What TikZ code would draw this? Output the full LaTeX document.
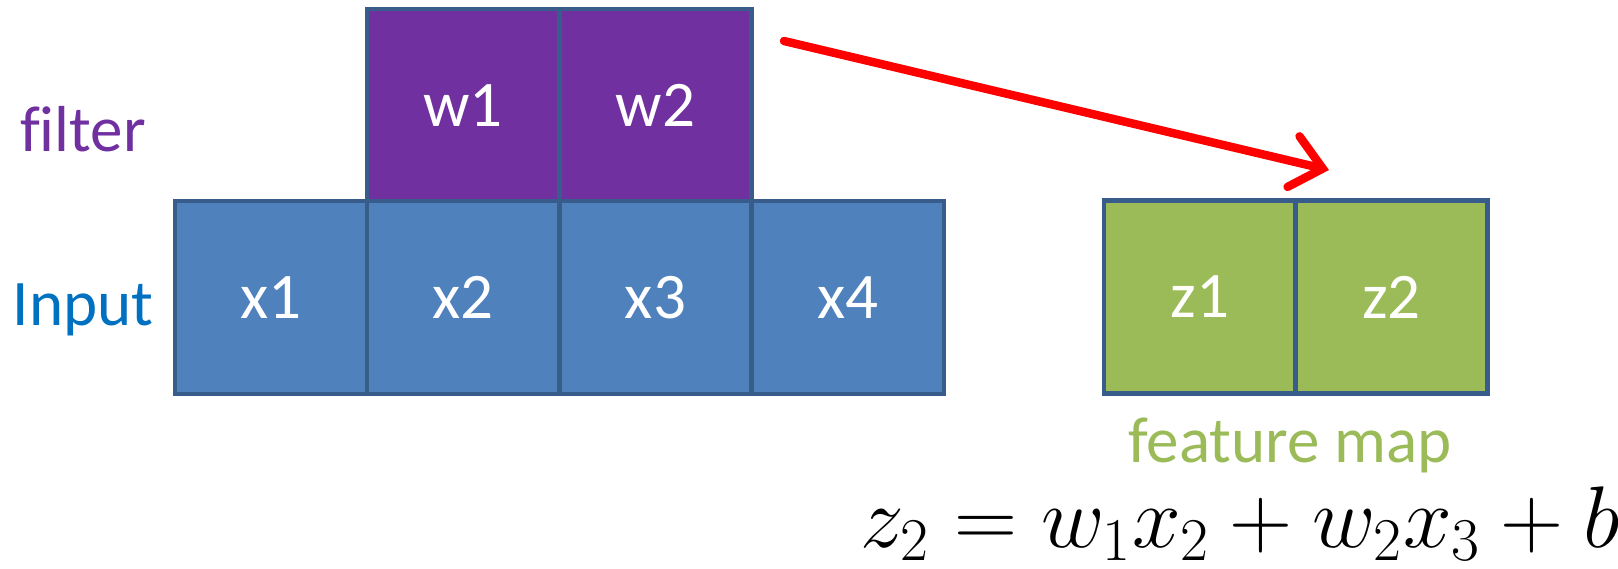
\documentclass[tikz,border=0pt]{standalone}
\usepackage{fontspec}
\setmainfont{Carlito}[Ligatures={NoCommon}]
\usetikzlibrary{arrows.meta}
\definecolor{fpurple}{HTML}{7030A0}
\definecolor{inblue}{HTML}{4F81BD}
\definecolor{edgeblue}{HTML}{385D8A}
\definecolor{fgreen}{HTML}{9BBB59}
\definecolor{txtblue}{HTML}{0070C0}
\tikzset{
  cell/.style={draw=edgeblue, line width=1.4pt, minimum width=1.92cm, minimum height=1.93cm,
    inner sep=0pt, outer sep=0pt, text=white, font=\fontsize{18.5}{22}\selectfont},
  incell/.style={cell, fill=inblue},
  wcell/.style={cell, fill=fpurple},
  zcell/.style={cell, fill=fgreen},
  lbl/.style={font=\fontsize{18.5}{22}\selectfont, inner sep=0pt},
  redarrow/.style={draw=red, line width=2.4pt, line cap=round, -{Straight Barb[length=3mm, width=5.2mm, line cap=round]}}
}
\begin{document}
\begin{tikzpicture}
\useasboundingbox (0,0) rectangle (16.18,-5.68);
% filter
\node[wcell] (w1) at (4.63,-1.055) {w1};
\node[wcell] (w2) at (6.555,-1.055) {w2};
% input
\node[incell] (x1) at (2.71,-2.975) {x1};
\node[incell] (x2) at (4.63,-2.975) {x2};
\node[incell] (x3) at (6.555,-2.975) {x3};
\node[incell] (x4) at (8.48,-2.975) {x4};
% feature map
\node[zcell] (z1) at (12.00,-2.97) {z1};
\node[zcell] (z2) at (13.915,-2.97) {z2};
% labels
\node[lbl, text=fpurple] (flbl) at (0.83,-1.29) {filter};
\node[lbl, text=txtblue] (ilbl) at (0.83,-3.10) {Input};
\node[lbl, text=fgreen] (fmlbl) at (12.9,-4.45) {feature map};
\node[inner sep=0pt] (eq) at (12.40,-5.24) {\fontsize{23}{28}\selectfont $z_2 = w_1x_2 + w_2x_3 + b$};
% arrow
\coordinate (as) at (7.84,-0.41);
\coordinate (ae) at (13.29,-1.70);
\draw[redarrow] (as) -- (ae);
\end{tikzpicture}
\end{document}
